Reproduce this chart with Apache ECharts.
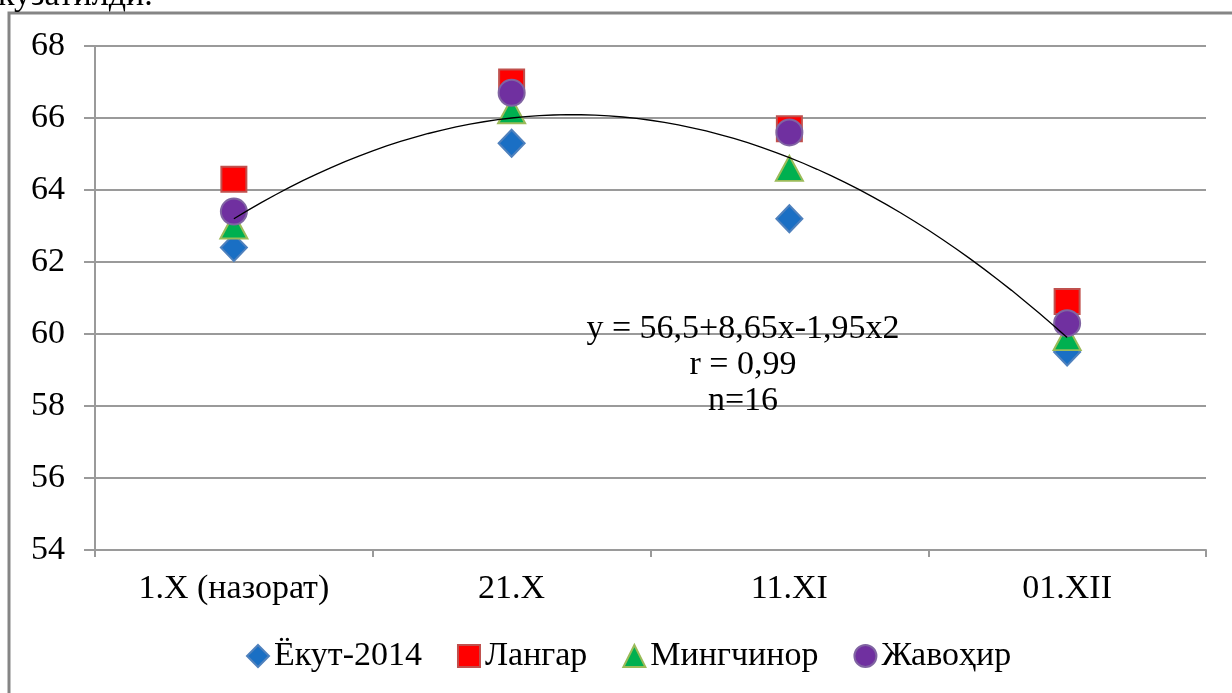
<!DOCTYPE html>
<html>
<head>
<meta charset="utf-8">
<script src="https://cdn.jsdelivr.net/npm/echarts@6/dist/echarts.min.js"></script>
<style>
  html, body { margin: 0; padding: 0; background: #fff; }
  #chart { width: 1232px; height: 693px; }
</style>
</head>
<body>
<div id="chart"></div>
<script>
// Sampling dates (X axis categories)
const categories = ['1.X (назорат)', '21.X', '11.XI', '01.XII'];

// Measured values per variety
const yokut2014  = [62.4, 65.3, 63.2, 59.5];
const langar     = [64.3, 67.0, 65.7, 60.9];
const mingchinor = [63.0, 66.2, 64.6, 59.9];
const javohir    = [63.4, 66.7, 65.6, 60.3];

// Y axis range and step
const yTicks = { min: 54, max: 68, step: 2 };

// Second-order trend: y = a + b*x + c*x^2, x = 1..4
const trendCoef = [56.5, 8.65, -1.95];
const trendR = 0.99;
const trendN = 16;

const FONT = 'Liberation Serif';

function fmt(v) { return String(v).replace('.', ','); }

// Trend curve points along the fitted polynomial
const trendPoints = [];
for (let i = 0; i <= 60; i++) {
  const x = 1 + i * 0.05;
  trendPoints.push([x, trendCoef[0] + trendCoef[1] * x + trendCoef[2] * x * x]);
}

const eqText = 'y = ' + fmt(trendCoef[0]) + '+' + fmt(trendCoef[1]) + 'x' +
  fmt(trendCoef[2]) + 'x2\nr = ' + fmt(trendR) + '\nn=' + trendN;

const chart = echarts.init(document.getElementById('chart'), null, { renderer: 'canvas' });

function marker(name, data, symbol, size, fill, border) {
  return {
    name: name,
    type: 'scatter',
    xAxisIndex: 0,
    yAxisIndex: 0,
    data: data,
    symbol: symbol,
    symbolSize: size,
    itemStyle: { color: fill, borderColor: border, borderWidth: 2, opacity: 1 },
    emphasis: { disabled: true },
    z: 3
  };
}

chart.setOption({
  animation: false,
  backgroundColor: '#fff',
  grid: { left: 95, right: 26, top: 46, bottom: 143, containLabel: false },
  xAxis: [
    {
      type: 'category',
      data: categories,
      boundaryGap: true,
      axisLine: { show: true, lineStyle: { color: '#9a9a9a', width: 2 } },
      axisTick: { show: true, alignWithLabel: false, length: 7, lineStyle: { color: '#9a9a9a', width: 2 } },
      axisLabel: { color: '#000', fontFamily: FONT, fontSize: 34, margin: 22 },
      splitLine: { show: false }
    },
    {
      type: 'value',
      min: 0.5,
      max: 4.5,
      show: false
    }
  ],
  yAxis: {
    type: 'value',
    min: yTicks.min,
    max: yTicks.max,
    interval: yTicks.step,
    axisLine: { show: true, lineStyle: { color: '#9a9a9a', width: 2 } },
    axisTick: { show: true, inside: false, length: 11, lineStyle: { color: '#9a9a9a', width: 2 } },
    axisLabel: { color: '#000', fontFamily: FONT, fontSize: 34, margin: 30 },
    splitLine: { show: true, lineStyle: { color: '#9a9a9a', width: 2 } }
  },
  legend: {
    data: ['Ёкут-2014', 'Лангар', 'Мингчинор', 'Жавоҳир'],
    left: 246,
    top: 639,
    padding: 0,
    itemGap: 35,
    itemWidth: 22,
    itemHeight: 22,
    textStyle: { fontFamily: FONT, fontSize: 34, color: '#000' }
  },
  graphic: [
    {
      type: 'rect',
      shape: { x: 9, y: 13, width: 1400, height: 900 },
      style: { fill: null, stroke: '#858585', lineWidth: 3 },
      silent: true,
      z: -1
    },
    {
      type: 'text',
      left: -2,
      top: -21,
      style: { text: 'кузатилди.', font: '34px "Liberation Serif"', fill: '#000' },
      silent: true
    },
    {
      type: 'text',
      x: 743,
      y: 311,
      style: {
        text: eqText,
        font: '34px "Liberation Serif"',
        fill: '#000',
        align: 'center',
        lineHeight: 36
      },
      silent: true,
      z: 10
    }
  ],
  series: [
    marker('Ёкут-2014', yokut2014, 'diamond', [26, 27], '#1a6fc4', '#4f81bd'),
    marker('Лангар', langar, 'rect', 25, '#ff0000', '#c0504d'),
    marker('Мингчинор', mingchinor, 'triangle', [27, 25], '#00b050', '#9bbb59'),
    marker('Жавоҳир', javohir, 'circle', 26, '#7030a0', '#8064a2'),
    {
      name: 'trend',
      type: 'line',
      xAxisIndex: 1,
      yAxisIndex: 0,
      data: trendPoints,
      showSymbol: false,
      symbol: 'none',
      smooth: false,
      lineStyle: { color: '#000', width: 1.3 },
      emphasis: { disabled: true },
      z: 5
    }
  ]
});
</script>
</body>
</html>
